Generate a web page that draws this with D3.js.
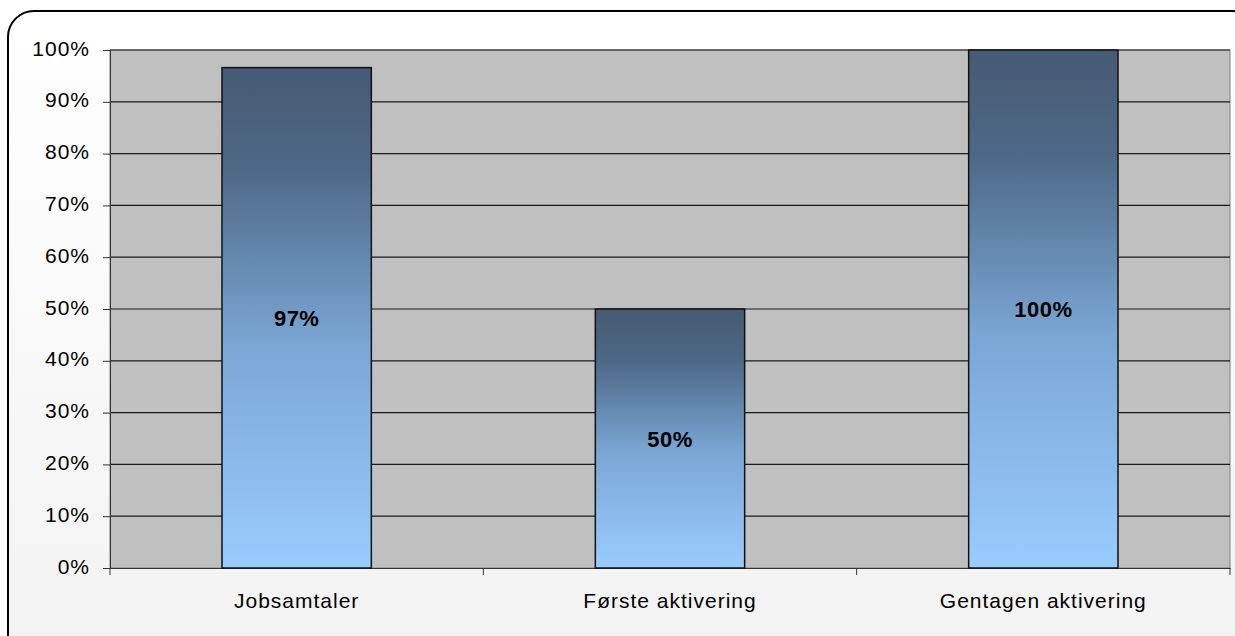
<!DOCTYPE html>
<html><head><meta charset="utf-8">
<script src="https://cdn.jsdelivr.net/npm/d3@7"></script>
<style>body{margin:0;background:#fff;} svg{display:block;}</style>
</head><body>
<svg id="c" width="1235" height="636"></svg>
<script>
const categories = ["Jobsamtaler", "Første aktivering", "Gentagen aktivering"];
const values = [0.966, 0.50, 1.00];
const labels = ["97%", "50%", "100%"];
const yTicks = [0,0.1,0.2,0.3,0.4,0.5,0.6,0.7,0.8,0.9,1.0];

const FONT = "Liberation Sans, Arial, sans-serif";
const svg = d3.select("#c");
const defs = svg.append("defs");
const bg = defs.append("linearGradient").attr("id","bgG").attr("x1",0).attr("y1",0).attr("x2",0).attr("y2",1);
bg.append("stop").attr("offset","0%").attr("stop-color","#ffffff");
bg.append("stop").attr("offset","100%").attr("stop-color","#f2f2f2");
const bar = defs.append("linearGradient").attr("id","barG").attr("x1",0).attr("y1",0).attr("x2",0).attr("y2",1);
bar.append("stop").attr("offset","0%").attr("stop-color","#465a73");
bar.append("stop").attr("offset","20%").attr("stop-color","#4d6886");
bar.append("stop").attr("offset","55%").attr("stop-color","#7aa6d4");
bar.append("stop").attr("offset","100%").attr("stop-color","#99ccff");
const sh = defs.append("filter").attr("id","sh").attr("x","-5%").attr("y","-5%").attr("width","110%").attr("height","110%");
sh.append("feDropShadow").attr("dx",3).attr("dy",3).attr("stdDeviation",2).attr("flood-color","#000").attr("flood-opacity",0.35);

svg.append("rect").attr("x",8).attr("y",11).attr("width",1250).attr("height",660)
  .attr("rx",26).attr("ry",26).attr("fill","url(#bgG)").attr("stroke","#000").attr("stroke-width",2)
  .attr("filter","url(#sh)");

const L=110, R=1230, T=50, B=568;
const x = d3.scaleBand().domain(categories).range([L,R]).paddingInner(0.6).paddingOuter(0.3);
const xb = d3.scaleBand().domain(categories).range([L,R]);
const y = d3.scaleLinear().domain([0,1]).range([B,T]);

svg.append("rect").attr("x",L).attr("y",T).attr("width",R-L).attr("height",B-T).attr("fill","#c0c0c0")
  .attr("stroke","#808080").attr("stroke-width",1);

svg.append("g").selectAll("line").data(yTicks.slice(1)).join("line")
  .attr("x1",L).attr("x2",R).attr("y1",d=>y(d)).attr("y2",d=>y(d))
  .attr("stroke","#1a1a1a").attr("stroke-width",1.2);

const yAxis = svg.append("g").attr("transform",`translate(${L},0)`)
  .call(d3.axisLeft(y).tickValues(yTicks).tickFormat(d3.format(".0%")).tickSize(7).tickSizeOuter(0));
yAxis.select(".domain").attr("stroke","#333");
yAxis.selectAll(".tick line").attr("stroke","#333");
yAxis.selectAll("text").attr("font-family",FONT).attr("font-size",21).attr("letter-spacing",1)
  .attr("fill","#000").attr("x",-20).attr("dy",5);

const xAxis = svg.append("g").attr("transform",`translate(0,${B})`)
  .call(d3.axisBottom(xb).tickValues([]).tickSizeOuter(0));
xAxis.select(".domain").attr("stroke","#333");
svg.append("g").selectAll("line").data(categories.slice(1).concat(["__end"])).join("line")
  .attr("x1",d=>d==="__end"?R:xb(d)).attr("x2",d=>d==="__end"?R:xb(d))
  .attr("y1",B).attr("y2",B+7).attr("stroke","#333");
svg.append("line").attr("x1",L).attr("x2",L).attr("y1",B).attr("y2",B+7).attr("stroke","#333");

svg.append("g").selectAll("text").data(categories).join("text")
  .attr("x",d=>xb(d)+xb.bandwidth()/2).attr("y",608).attr("text-anchor","middle")
  .attr("font-family",FONT).attr("font-size",21).attr("letter-spacing",1).attr("fill","#000").text(d=>d);

svg.append("g").selectAll("rect").data(values).join("rect")
  .attr("x",(d,i)=>x(categories[i])).attr("width",x.bandwidth())
  .attr("y",d=>y(d)).attr("height",d=>B-y(d))
  .attr("fill","url(#barG)").attr("stroke","#111").attr("stroke-width",1.5);

svg.append("g").selectAll("text").data(values).join("text")
  .attr("x",(d,i)=>x(categories[i])+x.bandwidth()/2).attr("y",d=>(y(d)+B)/2+8)
  .attr("text-anchor","middle").attr("font-family",FONT).attr("letter-spacing",0.5)
  .attr("font-weight","bold").attr("font-size",22).attr("fill","#000").text((d,i)=>labels[i]);
</script>
</body></html>
